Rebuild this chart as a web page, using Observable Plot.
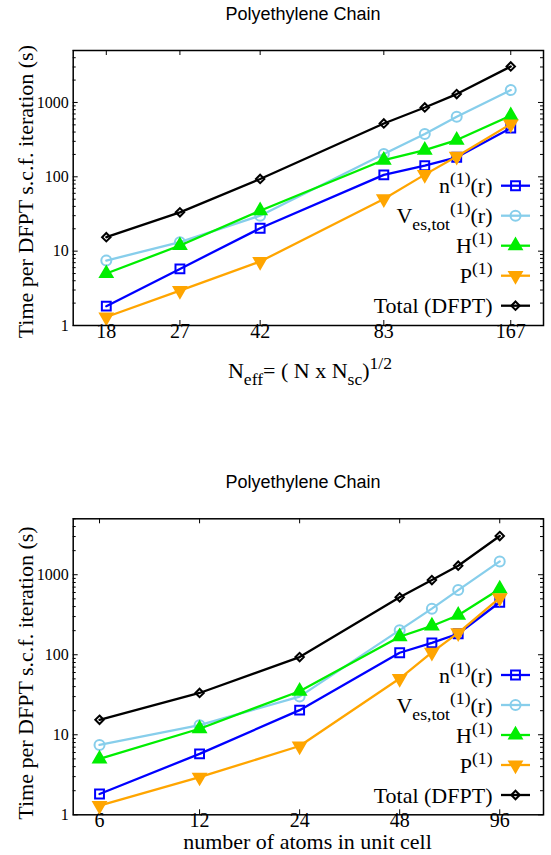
<!DOCTYPE html>
<html><head><meta charset="utf-8">
<script src="https://cdn.jsdelivr.net/npm/d3@7"></script>
<script src="https://cdn.jsdelivr.net/npm/@observablehq/plot@0.6"></script>
<style>
html,body{margin:0;padding:0;background:#fff;}
body{width:551px;}
.title{font-family:"Liberation Sans",Arial,sans-serif;font-size:18px;text-align:center;height:26px;line-height:28px;color:#000;padding-left:55px;box-sizing:border-box;width:551px;}
svg{display:block;}
</style>
</head><body>
<div class="title">Polyethylene Chain</div>
<div id="c1"></div>
<div class="title">Polyethylene Chain</div>
<div id="c2"></div>
<script>
// ---- data ----
const neff  = [18, 27, 42, 83, 104, 124, 167];      // N_eff = (N x Nsc)^1/2
const atoms = [6, 12, 24, 48, 60, 72, 96];          // number of atoms in unit cell
const nR    = [1.82, 5.77, 20.3, 106, 141, 183, 453];
const vEs   = [7.47, 13.2, 30, 203, 377, 643, 1467];
const h1    = [5.0, 11.9, 35, 168, 229, 312, 663];
const p1    = [1.3, 2.95, 7.24, 50.4, 107, 188, 513];
const total = [15.4, 33.3, 93.5, 522, 857, 1297, 3047];
const neffTicks = [18, 27, 42, 83, 167];
const atomTicks = [6, 12, 24, 48, 96];
const yMajor = [1, 10, 100, 1000];
const yMinor = [2,3,4,5,6,7,8,9,20,30,40,50,60,70,80,90,200,300,400,500,600,700,800,900,2000,3000,4000,5000];

const SERIF = '"Liberation Serif","Times New Roman",serif';

// ---- series styles ----
const series = [
  {values: nR,    color: "#0000ff", symbol: "square",   r: 5.0, fill: "none", rotate: 0,
   label: [{t:"n"},{t:"(1)",sup:true},{t:"(r)"}]},
  {values: vEs,   color: "#87ceeb", symbol: "circle",   r: 5.0, fill: "none", rotate: 0,
   label: [{t:"V"},{t:"es,tot",sub:true},{t:"(1)",sup:true},{t:"(r)"}]},
  {values: h1,    color: "#00ee00", symbol: "triangle", r: 4.6, fill: "#00ee00", rotate: 0,
   label: [{t:"H"},{t:"(1)",sup:true}]},
  {values: p1,    color: "#ffa500", symbol: "triangle", r: 4.6, fill: "#ffa500", rotate: 180,
   label: [{t:"P"},{t:"(1)",sup:true}]},
  {values: total, color: "#000000", symbol: "diamond2", r: 3.8, fill: "none", rotate: 0,
   label: [{t:"Total (DFPT)"}]}
];

function richText(textSel, parts, base) {
  let cur = 0;
  parts.forEach(p => {
    const target = p.sup ? -9 : p.sub ? 7 : 0;
    textSel.append("tspan")
      .attr("dy", target - cur)
      .attr("font-size", (p.sup || p.sub) ? base * 0.8 : base)
      .text(p.t);
    cur = target;
  });
}

function symbolType(name) {
  return {square: d3.symbolSquare, circle: d3.symbolCircle, triangle: d3.symbolTriangle, diamond2: d3.symbolDiamond2}[name];
}

function makeChart(opts) {
  const {xVals, xDomain, xTicks, H, mt, mb, xlabel, xlabelY, xlabelX, ylabelY} = opts;
  const W = 551, ml = 72.7, mr = 8;
  const fw = W - ml - mr, fh = H - mt - mb;
  const marks = [
    Plot.ruleX(xTicks, {x: d => d, insetTop: fh - 5, stroke: "black", strokeWidth: 1}),
    Plot.ruleX(xTicks, {x: d => d, insetBottom: fh - 5, stroke: "black", strokeWidth: 1}),
    Plot.ruleY(yMajor, {y: d => d, insetRight: fw - 5, stroke: "black", strokeWidth: 1}),
    Plot.ruleY(yMajor, {y: d => d, insetLeft: fw - 5, stroke: "black", strokeWidth: 1}),
    Plot.ruleY(yMinor, {y: d => d, insetRight: fw - 3, stroke: "black", strokeWidth: 1}),
    Plot.ruleY(yMinor, {y: d => d, insetLeft: fw - 3, stroke: "black", strokeWidth: 1}),
    // tick labels
    Plot.text(xTicks, {x: d => d, frameAnchor: "bottom", dy: 12.5, text: d => String(d),
      fontSize: 20, fontFamily: SERIF, fill: "black"}),
    Plot.text(yMajor, {y: d => d, frameAnchor: "left", textAnchor: "end", dx: -4.5, text: d => String(d),
      fontSize: 16, fontFamily: SERIF, fill: "black"})
  ];
  series.forEach(s => {
    const rows = s.values.map((v, j) => ({x: xVals[j], y: v}));
    marks.push(Plot.line(rows, {x: "x", y: "y", stroke: s.color, strokeWidth: 2.3}));
    marks.push(Plot.dot(rows, {x: "x", y: "y", symbol: s.symbol, r: s.r, stroke: s.color, fill: s.fill, strokeWidth: 2, rotate: s.rotate}));
  });
  marks.push(Plot.frame({stroke: "black", strokeWidth: 1.5}));

  const svg = Plot.plot({
    width: W, height: H,
    marginLeft: ml, marginRight: mr, marginTop: mt, marginBottom: mb,
    x: {type: "log", domain: xDomain, axis: null},
    y: {type: "log", domain: [1, 5000], axis: null},
    style: {background: "white", color: "black"},
    marks
  });

  const g = d3.select(svg).append("g").attr("font-family", SERIF).attr("fill", "black");
  // y label
  g.append("text")
    .attr("transform", `translate(33,${ylabelY}) rotate(-90)`)
    .attr("text-anchor", "middle")
    .attr("font-size", 22)
    .text("Time per DFPT s.c.f. iteration (s)");
  // x label
  const xl = g.append("text").attr("x", xlabelX).attr("y", xlabelY).attr("text-anchor", "middle").attr("font-size", 22);
  richText(xl, xlabel, 22);

  // legend
  const frameBottom = H - mb;
  series.forEach((s, i) => {
    const k = series.length - 1 - i;
    const y = frameBottom - 19.3 - 30 * k;
    const row = g.append("g");
    row.append("line").attr("x1", 501).attr("x2", 530).attr("y1", y).attr("y2", y)
      .attr("stroke", s.color).attr("stroke-width", 2.3);
    const sym = d3.symbol(symbolType(s.symbol), s.r * s.r * Math.PI)();
    row.append("path").attr("d", sym)
      .attr("transform", `translate(515.5,${y}) rotate(${s.rotate})`)
      .attr("stroke", s.color).attr("stroke-width", 2).attr("fill", s.fill);
    const t = row.append("text").attr("x", 492.5).attr("y", y + 7.6).attr("text-anchor", "end").attr("font-size", 22);
    richText(t, s.label, 22);
  });
  return svg;
}

document.getElementById("c1").appendChild(makeChart({
  xVals: neff, xDomain: [15, 200], xTicks: neffTicks,
  H: 442, mt: 24, mb: 143,
  xlabel: [{t:"N"},{t:"eff",sub:true},{t:"= ( N x N"},{t:"sc",sub:true},{t:")"},{t:"1/2",sup:true}],
  xlabelX: 310, xlabelY: 352, ylabelY: 165.7
}));
document.getElementById("c2").appendChild(makeChart({
  xVals: atoms, xDomain: [5, 130], xTicks: atomTicks,
  H: 361, mt: 24.3, mb: 40.7,
  xlabel: [{t:"number of atoms in unit cell"}],
  xlabelX: 307.5, xlabelY: 355, ylabelY: 179
}));
</script>
</body></html>
